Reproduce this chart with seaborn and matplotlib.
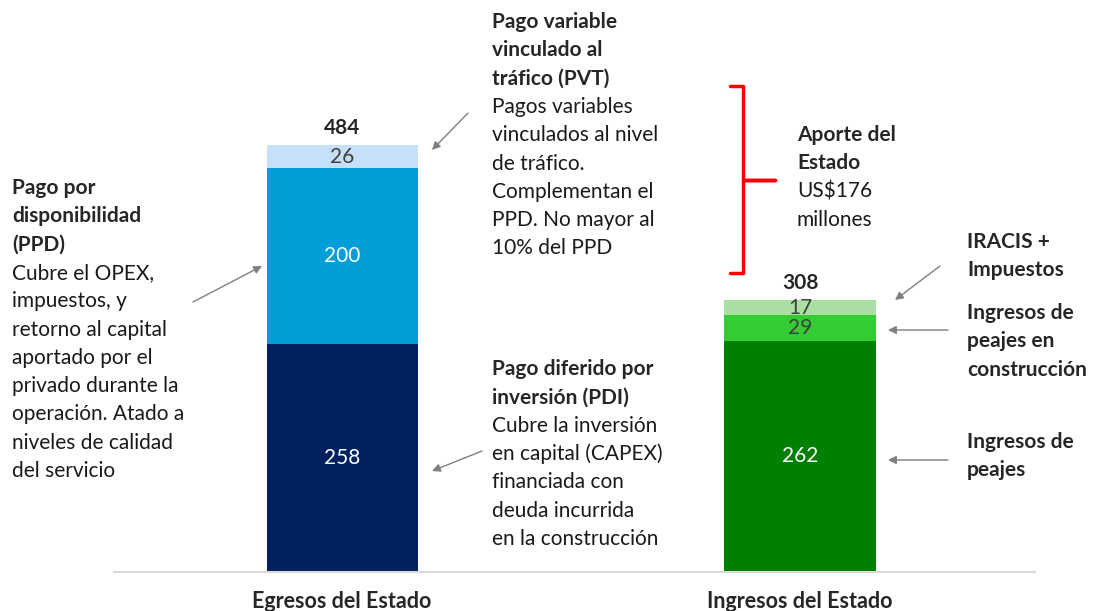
import seaborn as sns
import pandas as pd
import matplotlib.pyplot as plt
from matplotlib.lines import Line2D

# data
categories = ["Egresos del Estado", "Ingresos del Estado"]
base = [258, 262]
middle = [200, 29]
top = [26, 17]

blue_cols = ["#002060", "#009ED8", "#C5E0F8"]
green_cols = ["#008000", "#33CC33", "#A9DFA0"]

W, H = 1094, 611
FS = 15
sns.set_style("white")
plt.rcParams["font.family"] = ["Lato", "DejaVu Sans"]

fig = plt.figure(figsize=(W / 100, H / 100), dpi=100)
ax = fig.add_axes([114 / W, 39 / H, 921 / W, 572 / H])

df = pd.DataFrame({"cat": categories, "base": base, "middle": middle, "top": top})
df["mid_cum"] = df["base"] + df["middle"]
df["total"] = df["mid_cum"] + df["top"]

# stacked bars drawn as overlapping cumulative layers
layers = [("total", 2), ("mid_cum", 1), ("base", 0)]
for col, i in layers:
    sns.barplot(data=df, x="cat", y=col, hue="cat", palette=[blue_cols[i], green_cols[i]],
                width=0.33, linewidth=0, saturation=1, legend=False, ax=ax)

ax.set_xlim(-0.498, 1.513)
ax.set_ylim(0, 648.5)
ax.set_xlabel("")
ax.set_ylabel("")
ax.set_yticks([])
for s in ["top", "left", "right"]:
    ax.spines[s].set_visible(False)
ax.spines["bottom"].set_color("#D9D9D9")
ax.spines["bottom"].set_linewidth(1.5)
ax.tick_params(axis="x", length=0, pad=14)
for lab in ax.get_xticklabels():
    lab.set_fontweight("bold")
    lab.set_fontsize(15.5)

# segment labels
for i, row in df.iterrows():
    ax.text(i, row["base"] / 2, str(row["base"]), ha="center", va="center", color="white", fontsize=FS)
    ax.text(i, row["base"] + row["middle"] / 2, str(row["middle"]), ha="center", va="center",
            color="white" if i == 0 else "#404040", fontsize=FS)
    ax.text(i, row["mid_cum"] + row["top"] / 2, str(row["top"]), ha="center", va="center",
            color="#404040", fontsize=FS)
    ax.text(i, row["total"] + 8, str(row["total"]), ha="center", va="bottom",
            fontweight="bold", fontsize=FS)


def px(x, y):
    return (x / W, 1 - y / H)


def block(x, y0, bold_lines, normal_lines, step=28.3):
    y = y0
    for t in bold_lines:
        fig.text(*px(x, y), t, ha="left", va="center", fontweight="bold", fontsize=FS)
        y += step
    for t in normal_lines:
        fig.text(*px(x, y), t, ha="left", va="center", fontsize=FS, color="#1a1a1a")
        y += step


block(492, 22, ["Pago variable", "vinculado al", "tráfico (PVT)"],
      ["Pagos variables", "vinculados al nivel", "de tráfico.", "Complementan el",
       "PPD. No mayor al", "10% del PPD"])
block(12, 188, ["Pago por", "disponibilidad", "(PPD)"],
      ["Cubre el OPEX,", "impuestos, y", "retorno al capital", "aportado por el",
       "privado durante la", "operación. Atado a", "niveles de calidad", "del servicio"])
block(492, 369, ["Pago diferido por", "inversión (PDI)"],
      ["Cubre la inversión", "en capital (CAPEX)", "financiada con", "deuda incurrida",
       "en la construcción"])
block(797, 135, ["Aporte del", "Estado"], ["US$176", "millones"])
block(967, 242, ["IRACIS +", "Impuestos"], [])
block(967, 313, ["Ingresos de", "peajes en", "construcción"], [])
block(967, 442, ["Ingresos de", "peajes"], [])

# arrows
arrows = [((468, 113), (432, 150)), ((193, 302), (262, 266)), ((482, 451), (432, 471)),
          ((940, 266), (895, 300)), ((948, 330), (888, 330)), ((948, 460), (888, 460))]
for (x0, y0), (x1, y1) in arrows:
    ax.annotate("", xy=(x1, H - y1), xycoords="figure pixels", xytext=(x0, H - y0),
                textcoords="figure pixels",
                arrowprops=dict(arrowstyle="-|>", color="#7F7F7F", lw=1, mutation_scale=12,
                                shrinkA=0, shrinkB=0))

# red brace
bx = [730, 743, 743, 775, 743, 743, 730]
by = [86, 86, 180, 180, 180, 273, 273]
fig.add_artist(Line2D([x / W for x in bx], [1 - y / H for y in by], color="#FF0000", lw=2.5,
                      solid_joinstyle="round", solid_capstyle="round"))

fig.savefig("out.png", dpi=100)
